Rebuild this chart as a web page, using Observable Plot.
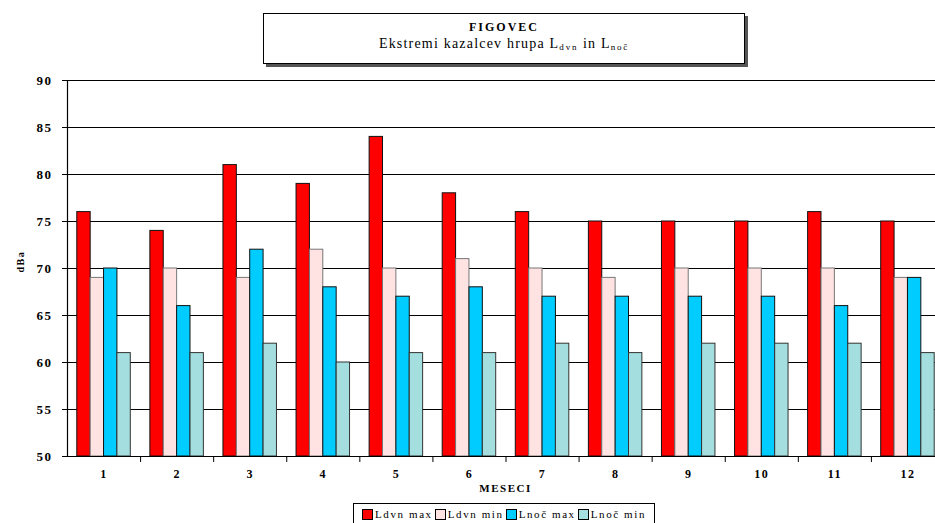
<!DOCTYPE html>
<html>
<head>
<meta charset="utf-8">
<script src="https://cdn.jsdelivr.net/npm/d3@7"></script>
<script src="https://cdn.jsdelivr.net/npm/@observablehq/plot@0.6"></script>
<style>
  html, body { margin: 0; padding: 0; background: #fff; }
  #wrap { position: relative; width: 935px; height: 523px; overflow: hidden; font-family: "Liberation Serif", "Times New Roman", serif; }
  #chart svg { overflow: hidden; }
  #chart svg text { letter-spacing: 1.5px; }
  #title { position: absolute; left: 263px; top: 13px; width: 480px; height: 49px; border: 1px solid #000; box-shadow: 3px 3px 0 #555; background: #fff; text-align: center; }
  #title .t1 { font-weight: bold; font-size: 12px; letter-spacing: 2px; margin-top: 6px; line-height: 14px; }
  #title .t2 { font-size: 14px; letter-spacing: 1.2px; margin-top: 2px; line-height: 16px; white-space: nowrap; }
  #title sub { font-size: 9px; letter-spacing: 1.8px; vertical-align: -2px; }
  #legend { position: absolute; left: 353px; top: 503px; width: 300px; height: 20px; border: 1px solid #000; border-bottom: none; background: #fff; display: flex; align-items: center; justify-content: center; font-size: 11px; letter-spacing: 1.6px; white-space: nowrap; }
  #legend .item { display: flex; align-items: center; margin: 0 1px; white-space: nowrap; }
  #legend .sw { width: 9px; height: 9px; border: 1px solid #000; margin-right: 2px; flex: none; }
</style>
</head>
<body>
<div id="wrap">
  <div id="chart"></div>
  <div id="title">
    <div class="t1">FIGOVEC</div>
    <div class="t2">Ekstremi kazalcev hrupa L<sub>dvn</sub> in L<sub>noč</sub></div>
  </div>
  <div id="legend"></div>
</div>
<script>
const months = [1,2,3,4,5,6,7,8,9,10,11,12];
const seriesNames = ["Ldvn max", "Ldvn min", "Lnoč max", "Lnoč min"];
const ldvnMax = [76,74,81,79,84,78,76,75,75,75,76,75];
const ldvnMin = [69,70,69,72,70,71,70,69,70,70,70,69];
const lnocMax = [70,66,72,68,67,68,67,67,67,67,66,69];
const lnocMin = [61,61,62,60,61,61,62,61,62,62,62,61];
const yTicks = [50,55,60,65,70,75,80,85,90];
const seriesColors = ["#FF0000", "#FFE2E2", "#00CCFF", "#A4DEDE"];
const seriesStrokes = ["#111", "#777", "#111", "#333"];

const allSeries = [ldvnMax, ldvnMin, lnocMax, lnocMin];
const table = [];
months.forEach((m, i) => {
  allSeries.forEach((s, k) => table.push({month: m, k, series: seriesNames[k], value: s[i]}));
});

const w = 0.183;
const off = (1 - 4 * w) / 2;
const boundaries = months.slice(0, -1).map(m => m + 0.5);

const plot = Plot.plot({
  width: 935,
  height: 523,
  marginLeft: 67,
  marginRight: 0,
  marginTop: 80,
  marginBottom: 67,
  style: {fontFamily: "'Liberation Serif', 'Times New Roman', serif", background: "#fff"},
  x: {domain: [0.5, 12.5], range: [67, 944]},
  y: {domain: [50, 90], range: [456, 80]},
  color: {domain: seriesNames, range: seriesColors},
  marks: [
    Plot.ruleY(yTicks.slice(1), {x1: 0.5, x2: 12.5, stroke: "#000", strokeWidth: 1}),
    Plot.rectY(table, {
      x1: d => d.month - 0.5 + off + d.k * w,
      x2: d => d.month - 0.5 + off + (d.k + 1) * w,
      y1: 50,
      y2: "value",
      fill: "series",
      stroke: d => seriesStrokes[d.k],
      strokeWidth: 1
    }),
    Plot.ruleX([0.5], {y1: 50, y2: 90, stroke: "#000", strokeWidth: 1.2}),
    Plot.ruleY([50], {x1: 0.5, x2: 12.5, stroke: "#000", strokeWidth: 1.2}),
    Plot.axisY({ticks: yTicks, tickSize: 5, tickPadding: 10, fontWeight: "bold", fontSize: 13, label: null, stroke: "#000"}),
    Plot.axisX({ticks: boundaries, tickSize: 6, tickFormat: () => "", label: null, stroke: "#000"}),
    Plot.axisX({ticks: months, tickSize: 0, tickPadding: 13, fontWeight: "bold", fontSize: 12, label: null, tickFormat: d => String(d)}),
    Plot.text(["MESECI"], {frameAnchor: "bottom", dx: 4, dy: 35, fontWeight: "bold", fontSize: 11}),
    Plot.text(["dBa"], {frameAnchor: "left", dx: -47, dy: 4, rotate: -90, fontWeight: "bold", fontSize: 10})
  ]
});
document.getElementById("chart").appendChild(plot);

const legend = document.getElementById("legend");
seriesNames.forEach((name, k) => {
  const item = document.createElement("div");
  item.className = "item";
  const sw = document.createElement("div");
  sw.className = "sw";
  sw.style.background = seriesColors[k];
  const label = document.createElement("span");
  label.textContent = name;
  item.appendChild(sw);
  item.appendChild(label);
  legend.appendChild(item);
});
</script>
</body>
</html>
